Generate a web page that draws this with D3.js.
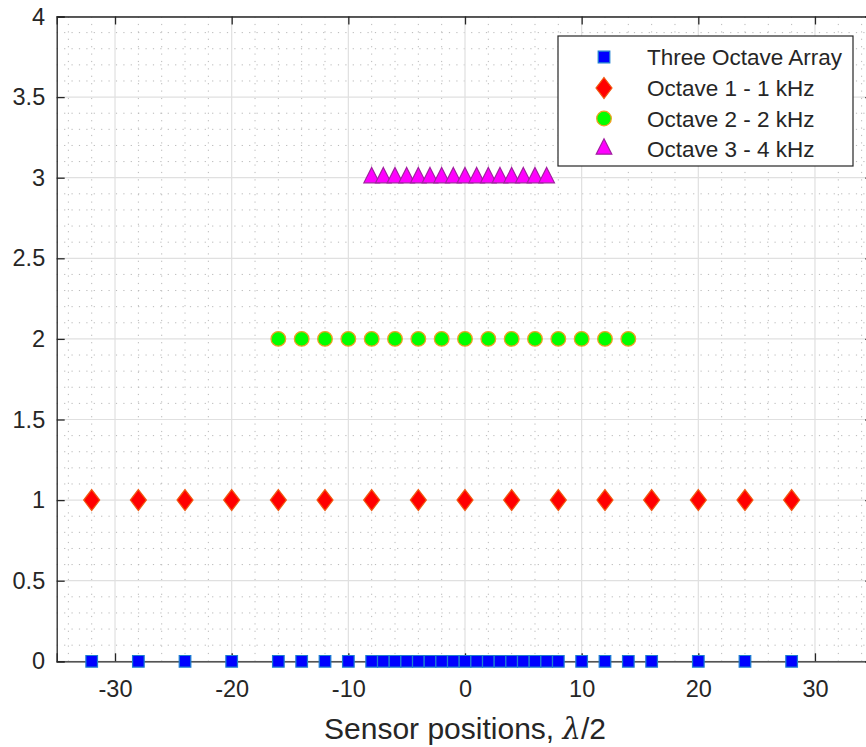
<!DOCTYPE html>
<html>
<head>
<meta charset="utf-8">
<script src="https://cdn.jsdelivr.net/npm/d3@7"></script>
<style>
  html, body { margin: 0; padding: 0; background: #fff; }
  svg { display: block; }
  text { font-family: "Liberation Sans", Arial, Helvetica, sans-serif; fill: #262626; }
</style>
</head>
<body>
<svg id="chart" width="866" height="747"></svg>
<script>
// ---- data ----
const threeOctaveX = [-32,-28,-24,-20,-16,-14,-12,-10,-8,-7,-6,-5,-4,-3,-2,-1,0,1,2,3,4,5,6,7,8,10,12,14,16,20,24,28];
const threeOctaveY = 0;
const octave1X = [-32,-28,-24,-20,-16,-12,-8,-4,0,4,8,12,16,20,24,28];
const octave1Y = 1;
const octave2X = [-16,-14,-12,-10,-8,-6,-4,-2,0,2,4,6,8,10,12,14];
const octave2Y = 2;
const octave3X = [-8,-7,-6,-5,-4,-3,-2,-1,0,1,2,3,4,5,6,7];
const octave3Y = 3;
const seriesNames = ["Three Octave Array", "Octave 1 - 1 kHz", "Octave 2 - 2 kHz", "Octave 3 - 4 kHz"];
const xTicks = [-30,-20,-10,0,10,20,30];
const xTickLabels = ["-30","-20","-10","0","10","20","30"];
const yTicks = [0,0.5,1,1.5,2,2.5,3,3.5,4];
const yTickLabels = ["0","0.5","1","1.5","2","2.5","3","3.5","4"];
const xDomain = [-35, 35];
const yDomain = [0, 4];

// ---- layout ----
const svg = d3.select("#chart");
const x = d3.scaleLinear().domain(xDomain).range([56.7, 873.3]);
const y = d3.scaleLinear().domain(yDomain).range([661.3, 16.5]);
const axisColor = "#262626";

// minor grid
const xMinor = d3.range(-34, 35, 2).filter(v => v % 10 !== 0);
const yMinor = d3.range(0, 4.001, 0.1).map(v => +v.toFixed(1)).filter(v => Math.abs(v*2 - Math.round(v*2)) > 1e-6);
const grid = svg.append("g");
grid.selectAll(".xm").data(xMinor).join("line")
  .attr("x1", d => x(d)).attr("x2", d => x(d)).attr("y1", y(4)).attr("y2", y(0))
  .attr("stroke", "#b8b8b8").attr("stroke-width", 1).attr("stroke-dasharray", "1.2,6.2");
grid.selectAll(".ym").data(yMinor).join("line")
  .attr("x1", x(-35)).attr("x2", x(35)).attr("y1", d => y(d)).attr("y2", d => y(d))
  .attr("stroke", "#b8b8b8").attr("stroke-width", 1).attr("stroke-dasharray", "1.2,6.2");
// major grid
grid.selectAll(".xg").data(xTicks).join("line")
  .attr("x1", d => x(d)).attr("x2", d => x(d)).attr("y1", y(4)).attr("y2", y(0))
  .attr("stroke", "#e0e0e0").attr("stroke-width", 1.2);
grid.selectAll(".yg").data(yTicks).join("line")
  .attr("x1", x(-35)).attr("x2", x(35)).attr("y1", d => y(d)).attr("y2", d => y(d))
  .attr("stroke", "#e0e0e0").attr("stroke-width", 1.2);

// axes (MATLAB style box, inward ticks)
const tickLen = 8;
const axB = svg.append("g").attr("transform", `translate(0,${y(0)})`)
  .call(d3.axisBottom(x).tickValues(xTicks).tickSize(-tickLen).tickPadding(14)
    .tickFormat((d, i) => xTickLabels[i]));
const axT = svg.append("g").attr("transform", `translate(0,${y(4)})`)
  .call(d3.axisTop(x).tickValues(xTicks).tickSize(-tickLen).tickFormat(""));
const axL = svg.append("g").attr("transform", `translate(${x(-35)},0)`)
  .call(d3.axisLeft(y).tickValues(yTicks).tickSize(-tickLen).tickPadding(12)
    .tickFormat((d, i) => yTickLabels[i]));
const axR = svg.append("g").attr("transform", `translate(${x(35)},0)`)
  .call(d3.axisRight(y).tickValues(yTicks).tickSize(-tickLen).tickFormat(""));
[axB, axT, axL, axR].forEach(a => {
  a.select(".domain").attr("stroke", axisColor).attr("stroke-width", 1.3);
  a.selectAll(".tick line").attr("stroke", axisColor).attr("stroke-width", 1.3);
  a.selectAll("text").attr("font-size", 23.5).attr("fill", axisColor)
    .attr("font-family", '"Liberation Sans", Arial, sans-serif');
});
axB.selectAll(".tick text").attr("dy", null).attr("y", 0).attr("dominant-baseline", "auto")
  .attr("transform", "translate(0,36)");
axL.selectAll(".tick text").attr("x", -11.5);

// x label
svg.append("text").attr("x", x(0)).attr("y", 739).attr("text-anchor", "middle")
  .attr("font-size", 30)
  .call(t => {
    t.append("tspan").text("Sensor positions, ");
    t.append("tspan").attr("font-style", "italic").attr("font-family", '"DejaVu Serif", serif').attr("font-size", 29).text("λ");
    t.append("tspan").text("/2");
  });

// ---- markers ----
const sq = 11.6;
const squarePath = `M${-sq/2},${-sq/2}h${sq}v${sq}h${-sq}Z`;
const dw = 8, dh = 10.5;
const diamondPath = `M0,${-dh}L${dw},0L0,${dh}L${-dw},0Z`;
const tw = 7.8, th = 15.4;
const trianglePath = `M0,${-th*2/3}L${tw},${th/3}L${-tw},${th/3}Z`;

const styles = [
  {path: squarePath, fill: "#0000ff", stroke: "#1c7fd0", sw: 1.2},
  {path: diamondPath, fill: "#ff0000", stroke: "#f05a10", sw: 1.2},
  {path: null, fill: "#00ff00", stroke: "#f0a020", sw: 1.3},
  {path: trianglePath, fill: "#ff00ff", stroke: "#a0209f", sw: 1.2}
];

function drawSeries(xs, yv, st) {
  const g = svg.append("g");
  if (st.path) {
    g.selectAll("path").data(xs).join("path")
      .attr("d", st.path)
      .attr("transform", d => `translate(${x(d)},${y(yv)})`)
      .attr("fill", st.fill).attr("stroke", st.stroke).attr("stroke-width", st.sw);
  } else {
    g.selectAll("circle").data(xs).join("circle")
      .attr("cx", d => x(d)).attr("cy", y(yv)).attr("r", 7.3)
      .attr("fill", st.fill).attr("stroke", st.stroke).attr("stroke-width", st.sw);
  }
}
drawSeries(threeOctaveX, threeOctaveY, styles[0]);
drawSeries(octave1X, octave1Y, styles[1]);
drawSeries(octave2X, octave2Y, styles[2]);
drawSeries(octave3X, octave3Y, styles[3]);

// ---- legend ----
const lg = svg.append("g");
lg.append("rect").attr("x", 558).attr("y", 36).attr("width", 295).attr("height", 130)
  .attr("fill", "#fff").attr("stroke", axisColor).attr("stroke-width", 1.2);
const rowY = [57, 88, 118.5, 149];
seriesNames.forEach((name, i) => {
  const st = styles[i];
  if (st.path) {
    lg.append("path").attr("d", st.path).attr("transform", `translate(604,${rowY[i]})`)
      .attr("fill", st.fill).attr("stroke", st.stroke).attr("stroke-width", st.sw);
  } else {
    lg.append("circle").attr("cx", 604).attr("cy", rowY[i]).attr("r", 7.3)
      .attr("fill", st.fill).attr("stroke", st.stroke).attr("stroke-width", st.sw);
  }
  lg.append("text").attr("x", 647).attr("y", rowY[i] + 8).attr("font-size", 22.5).text(name);
});
</script>
</body>
</html>
